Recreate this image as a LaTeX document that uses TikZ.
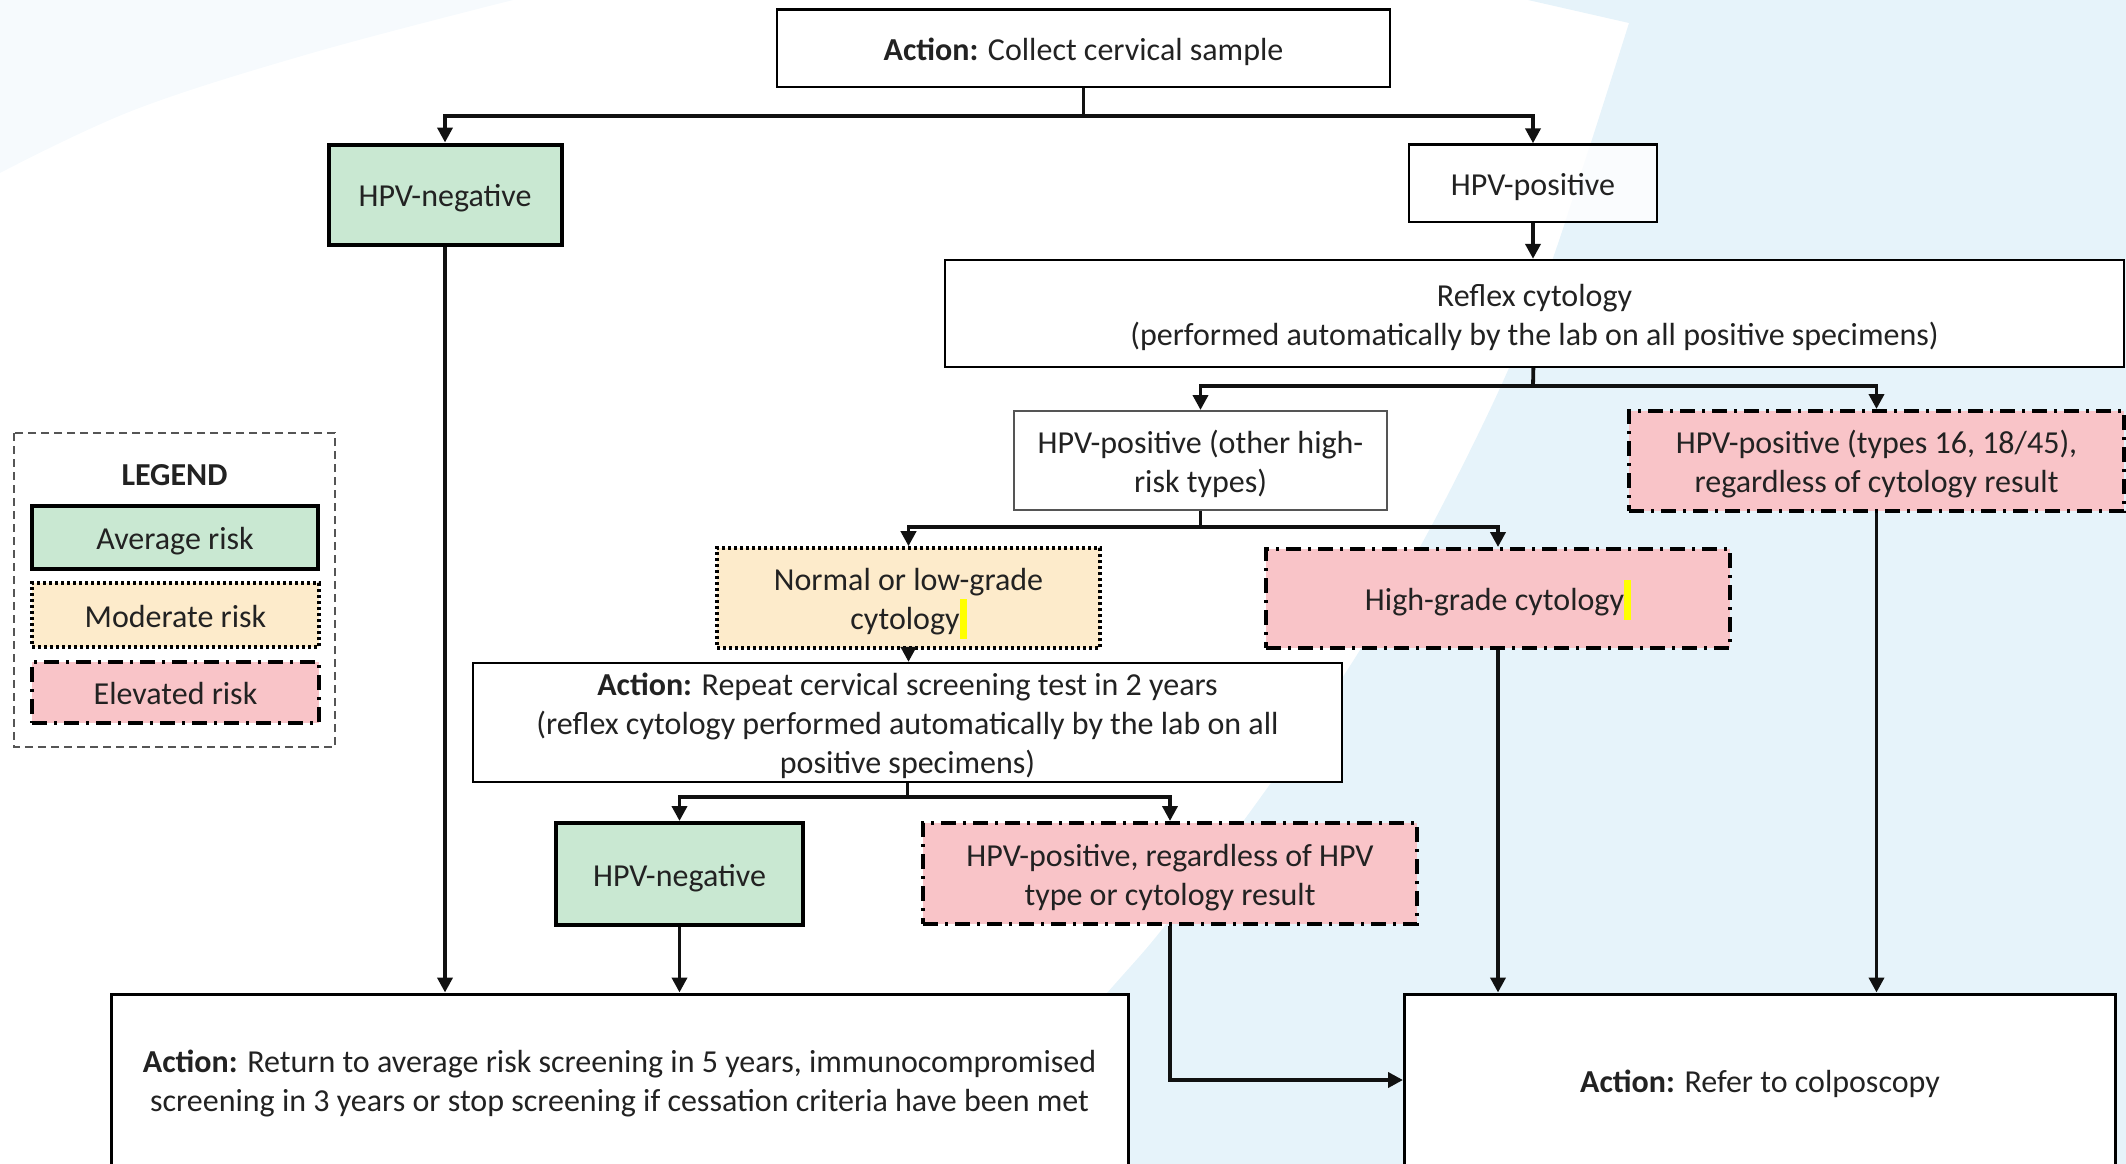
\documentclass[tikz,border=0pt]{standalone}
\usepackage{fontspec}
\setmainfont{Carlito}
\usetikzlibrary{arrows.meta}

\definecolor{txt}{HTML}{222222}
\definecolor{bgblue}{HTML}{E6F3FA}
\definecolor{bgfaint}{HTML}{F6FAFD}
\definecolor{avgfill}{HTML}{C9E8D2}
\definecolor{modfill}{HTML}{FDEBCB}
\definecolor{elevfill}{HTML}{F9C4C8}
\definecolor{legendgray}{HTML}{555555}
\definecolor{linegray}{HTML}{111111}
\definecolor{marker}{HTML}{FFFF00}

\newcommand{\hlmark}{\textcolor{marker}{\smash{\rule[-4.5pt]{3.5pt}{20pt}}}}
% fixed struts on the first and last line keep every baseline in the same place
\newcommand{\boxtop}{\rule{0pt}{16.4pt}}
\newcommand{\boxbot}{\rule[-4pt]{0pt}{4pt}}

\tikzset{
  every node/.style={font=\fontsize{16}{19.5}\selectfont, text=txt},
  plainbox/.style={draw=black, line width=1.2pt, fill=white, align=center, inner sep=0pt},
  endbox/.style={plainbox, line width=1.5pt},
  graybox/.style={plainbox, draw=legendgray, line width=1pt},
  avgbox/.style={draw=black, line width=2pt, fill=avgfill, align=center, inner sep=0pt},
  modbox/.style={draw=black, line width=1.8pt, dash pattern=on 1.5pt off 1.5pt,
                 fill=modfill, align=center, inner sep=0pt},
  elevbox/.style={draw=black, line width=2pt,
                  dash pattern=on 7.5pt off 3.5pt on 1.5pt off 3.5pt,
                  fill=elevfill, align=center, inner sep=0pt},
  conn/.style={draw=linegray, line width=1.9pt},
  arr/.style={conn, -{Triangle[length=7.5pt,width=7.5pt]}},
}

\begin{document}
\begin{tikzpicture}[x=0.5pt, y=-0.5pt]
  \useasboundingbox (0,0) rectangle (2126,1163);
  \clip (0,0) rectangle (2126,1163);

  % background sweeps
  \fill[bgfaint] (0,0) -- (513,0)
     -- plot[smooth, tension=0.6] coordinates {(513,0) (312,53) (134,110) (0,173)} -- cycle;
  \fill[bgblue] (1528,0) -- (1629,23)
     -- plot[smooth, tension=0.5] coordinates {(1629,23) (1553,258) (1500,388) (1433,523)
          (1360,650) (1273,780) (1167,923) (1107,993) (950,1170)}
     -- (2126,1170) -- (2126,0) -- cycle;

  % legend
  \draw[legendgray, line width=1pt, dash pattern=on 4pt off 2.5pt] (14,433) rectangle (335,747);
  \node[font=\fontsize{16}{19.5}\selectfont\bfseries, inner sep=0pt] (legtitle) at (174.5,473)
    {\boxtop LEGEND\boxbot};
  \node[avgbox, minimum width=143pt, minimum height=31.5pt] (legavg) at (175,537.5)
    {\boxtop Average risk\boxbot};
  \node[modbox, minimum width=143.5pt, minimum height=32pt] (legmod) at (175.5,615)
    {\boxtop Moderate risk\boxbot};
  \node[elevbox, minimum width=143.5pt, minimum height=30.5pt] (legelev) at (175.5,692.5)
    {\boxtop Elevated risk\boxbot};

  % flow boxes
  \node[plainbox, minimum width=306.5pt, minimum height=38.75pt] (collect) at (1083.5,48.25)
    {\boxtop\textbf{Action:} Collect cervical sample\boxbot};
  \node[avgbox, minimum width=116.5pt, minimum height=50pt] (neg1) at (445,194.5)
    {\boxtop HPV-negative\boxbot};
  \node[plainbox, fill opacity=0.8, text opacity=1, minimum width=124pt, minimum height=38.75pt]
    (pos) at (1533,183.25) {\boxtop HPV-positive\boxbot};
  \node[plainbox, minimum width=589.5pt, minimum height=53.5pt] (reflex) at (1534.5,313.5)
    {\boxtop Reflex cytology\\(performed automatically by the lab on all positive specimens)\boxbot};
  \node[graybox, minimum width=186.5pt, minimum height=49.5pt] (other) at (1200.5,460.5)
    {\boxtop HPV-positive (other high-\\risk types)\boxbot};
  \node[elevbox, minimum width=247.5pt, minimum height=50pt] (types) at (1876.5,461)
    {\boxtop HPV-positive (types 16, 18/45),\\regardless of cytology result\boxbot};
  \node[modbox, minimum width=191.5pt, minimum height=50pt] (lowgrade) at (908.5,598)
    {\boxtop Normal or low-grade\\cytology\hlmark\boxbot};
  \node[elevbox, minimum width=232pt, minimum height=49.5pt] (highgrade) at (1498,598.5)
    {\boxtop High-grade cytology\hlmark\boxbot};
  \node[plainbox, minimum width=434.5pt, minimum height=57.5pt] (repeat) at (907.5,722.5)
    {\boxtop\textbf{Action:} Repeat cervical screening test in 2 years\\(reflex cytology performed automatically by the lab on all\\positive specimens)\boxbot};
  \node[avgbox, minimum width=123.5pt, minimum height=51pt] (neg2) at (679.5,874)
    {\boxtop HPV-negative\boxbot};
  \node[elevbox, minimum width=247pt, minimum height=50.5pt] (posany) at (1170,873.5)
    {\boxtop HPV-positive, regardless of HPV\\type or cytology result\boxbot};
  \node[endbox, minimum width=508.5pt, minimum height=86pt] (return) at (619.5,1080)
    {\boxtop\textbf{Action:} Return to average risk screening in 5 years, immunocompromised\\screening in 3 years or stop screening if cessation criteria have been met\boxbot};
  \node[endbox, minimum width=355.5pt, minimum height=86pt] (refer) at (1760,1080)
    {\boxtop\textbf{Action:} Refer to colposcopy\boxbot};

  % branch points
  \coordinate (j1) at (1083.5,116);
  \coordinate (j2) at (1533,386);
  \coordinate (j3) at (1200.5,527);
  \coordinate (j4) at (907.5,797);

  % connectors
  \draw[conn] (collect) -- (j1);
  \draw[arr] (j1) -| (neg1);
  \draw[arr] (j1) -| (pos);
  \draw[arr] (neg1) -- (neg1 |- return.north);
  \draw[arr] (pos) -- (pos |- reflex.north);
  \draw[conn] (reflex) -- (j2);
  \draw[arr] (j2) -| (other);
  \draw[arr] (j2) -| (types);
  \draw[conn] (other) -- (j3);
  \draw[arr] (j3) -| (lowgrade);
  \draw[arr] (j3) -| (highgrade);
  \draw[arr] (lowgrade) -- (lowgrade |- repeat.north);
  \draw[conn] (repeat) -- (j4);
  \draw[arr] (j4) -| (neg2);
  \draw[arr] (j4) -| (posany);
  \draw[arr] (neg2) -- (neg2 |- return.north);
  \draw[arr] (posany) |- (refer);
  \draw[arr] (highgrade) -- (highgrade |- refer.north);
  \draw[arr] (types) -- (types |- refer.north);
\end{tikzpicture}
\end{document}
